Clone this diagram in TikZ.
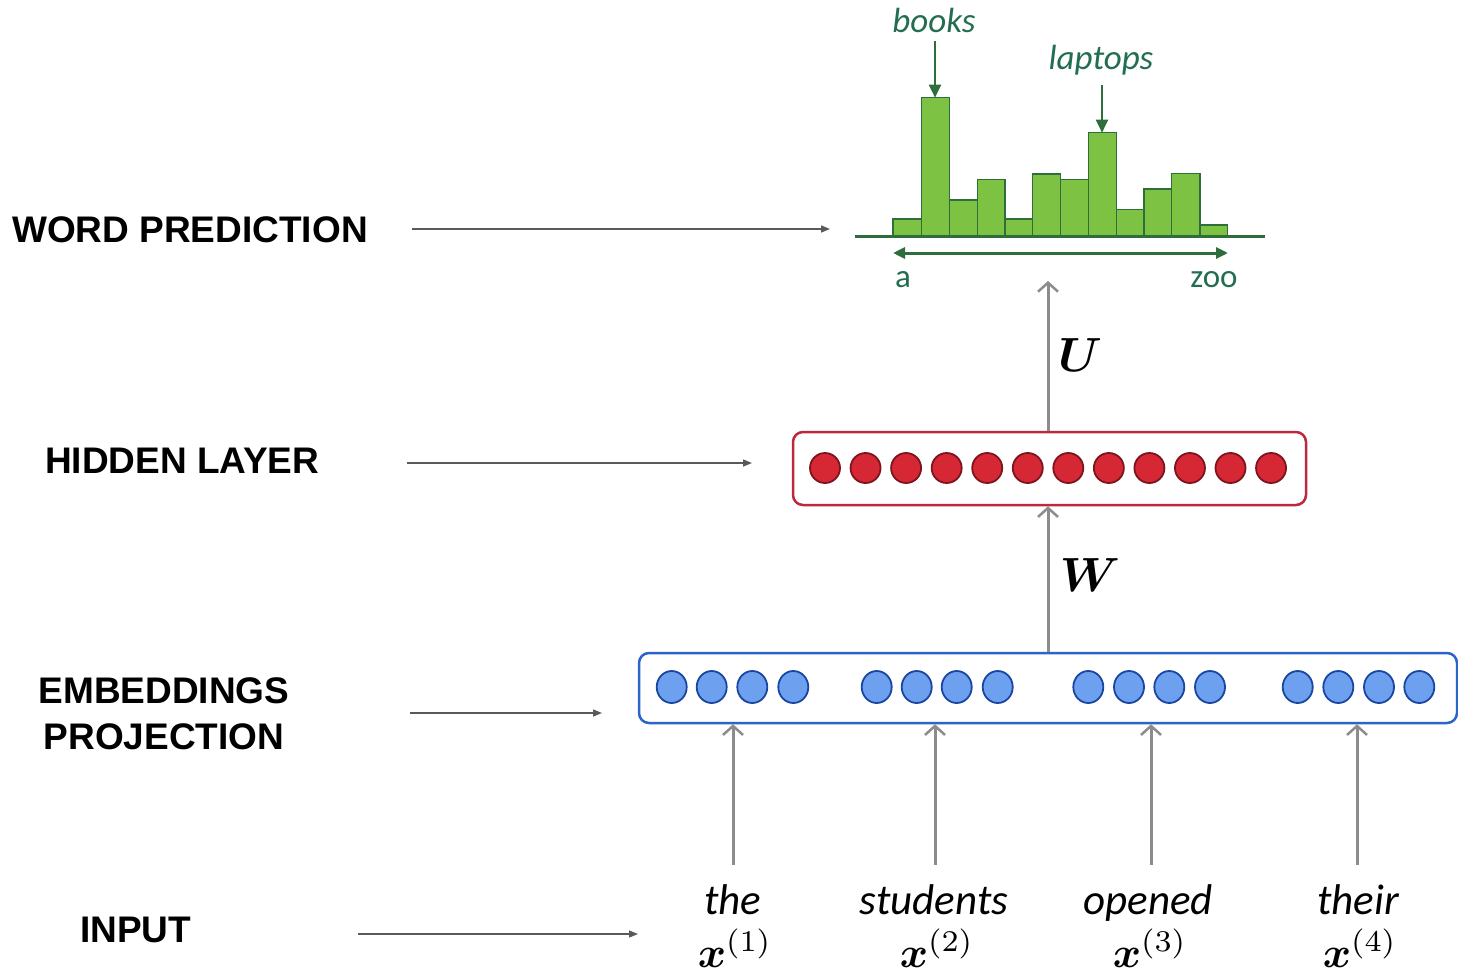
\documentclass[tikz,border=0pt]{standalone}
\usepackage{amsmath,bm,graphicx}
\usepackage{fontspec}
\newfontfamily\labfont{Liberation Sans}
\newfontfamily\calfont{Carlito}
\usetikzlibrary{arrows.meta,shapes.geometric}
\definecolor{barfill}{RGB}{125,194,66}
\definecolor{baredge}{RGB}{45,110,60}
\definecolor{gtext}{RGB}{35,110,80}
\definecolor{redfill}{RGB}{214,40,52}
\definecolor{rededge}{RGB}{125,20,30}
\definecolor{redbox}{RGB}{190,40,60}
\definecolor{bluefill}{RGB}{110,160,240}
\definecolor{blueedge}{RGB}{25,70,160}
\definecolor{bluebox}{RGB}{45,100,200}
\definecolor{garr}{RGB}{140,140,140}
\definecolor{larr}{RGB}{90,90,90}
\begin{document}
\begin{tikzpicture}[x=1pt,y=-1pt,
  lab/.style={font=\labfont\bfseries\fontsize{37}{46}\selectfont, inner sep=0pt, align=center},
  larrow/.style={draw=larr, line width=1.4pt, -{Triangle[length=9pt,width=7pt]}},
  garrow/.style={draw=garr, line width=3pt, -{Straight Barb[length=9pt,width=20pt,line width=2.5pt]}},
  bar/.style={fill=barfill, draw=baredge, line width=1.5pt},
  gline/.style={draw=baredge, line width=3pt},
  glab/.style={text=gtext, inner sep=0pt, anchor=base},
  redc/.style={circle, fill=redfill, draw=rededge, line width=1.8pt, minimum size=30pt, inner sep=0pt},
  bluec/.style={ellipse, fill=bluefill, draw=blueedge, line width=1.8pt, minimum width=30pt, minimum height=32pt, inner sep=0pt},
  layerbox/.style={rectangle, rounded corners=10pt, line width=2.5pt, fill=white, inner sep=0pt},
  word/.style={font=\calfont\itshape\fontsize{43}{46}\selectfont, inner sep=0pt, anchor=base},
  xv/.style={inner sep=0pt, anchor=base},
  wlab/.style={inner sep=0pt}
]
\useasboundingbox (0,0) rectangle (1458,979);

% ---------- left labels ----------
\node[lab, anchor=base west] (lwp) at (12,242) {WORD PREDICTION};
\node[lab, anchor=base west] (lhl) at (45,473) {HIDDEN LAYER};
\node[lab] (lemb) at (164,714) {EMBEDDINGS\\PROJECTION};
\node[lab, anchor=base west] (lin) at (80,942) {INPUT};

\coordinate (awp0) at (412,229);  \coordinate (awp1) at (830,229);
\coordinate (ahl0) at (407,463);  \coordinate (ahl1) at (752,463);
\coordinate (aem0) at (410,713);  \coordinate (aem1) at (602,713);
\coordinate (ain0) at (358,934);  \coordinate (ain1) at (638,934);
\draw[larrow] (awp0) -- (awp1);
\draw[larrow] (ahl0) -- (ahl1);
\draw[larrow] (aem0) -- (aem1);
\draw[larrow] (ain0) -- (ain1);

% ---------- histogram ----------
\foreach \a/\b/\t in {893/921.5/219, 921.5/949.3/97.7, 949.3/977.3/200, 977.3/1005/179.3,
  1005/1032.7/219, 1032.7/1060.7/174, 1060.7/1088.3/179.3, 1088.3/1116.7/132.7,
  1116.7/1144/209.3, 1144/1171.7/189, 1171.7/1200/173.3, 1200/1227.7/225}
  \draw[bar] (\a,236.5) rectangle (\b,\t);
\coordinate (base0) at (855,236.5); \coordinate (base1) at (1265,236.5);
\draw[gline] (base0) -- (base1);
\coordinate (rng0) at (893,253); \coordinate (rng1) at (1228,253);
\draw[gline, {Triangle[length=12pt,width=11pt]}-{Triangle[length=12pt,width=11pt]}] (rng0) -- (rng1);
\node[glab, font=\calfont\fontsize{33}{35}\selectfont] (la) at (903,287) {a};
\node[glab, font=\calfont\fontsize{33}{35}\selectfont] (lzoo) at (1214,287) {zoo};
\node[glab, font=\calfont\itshape\fontsize{35}{38}\selectfont] (books) at (934,33) {books};
\node[glab, font=\calfont\itshape\fontsize{35}{38}\selectfont] (laptops) at (1101,70) {laptops};
\coordinate (booksbar) at (935,97.7);
\coordinate (lapbar) at (1102,132.7);
\draw[draw=baredge, line width=2pt, -{Triangle[length=13pt,width=12pt]}, shorten <=8pt] (books.south -| booksbar) -- (booksbar);
\draw[draw=baredge, line width=2pt, -{Triangle[length=13pt,width=12pt]}, shorten <=9pt] (laptops.south -| lapbar) -- (lapbar);

% ---------- hidden layer ----------
\node[layerbox, draw=redbox, minimum width=513pt, minimum height=73pt] (hid) at (1049.5,468.5) {};
\foreach \i in {1,...,12}
  \node[redc] (h\i) at ({825+40.55*(\i-1)},468) {};

% ---------- embeddings ----------
\node[layerbox, draw=bluebox, minimum width=818pt, minimum height=70pt] (emb) at (1048,688) {};
\foreach \i/\x in {1/671.7,2/711.7,3/752.3,4/793.3,5/876.7,6/916.7,7/956.7,8/997.7,
  9/1088.3,10/1129,11/1169.3,12/1210,13/1297.7,14/1338.3,15/1379,16/1419.3}
  \node[bluec] (e\i) at (\x,687) {};

% ---------- U and W ----------
\coordinate (utip) at (1048,281);
\draw[garrow] (hid.north -| emb.north) -- (utip);
\draw[garrow] (emb.north) -- (hid.south -| emb.north);
\node[wlab] (U) at (1080,355) {\scalebox{4.8}{$\bm{U}$}};
\node[wlab] (W) at (1090,575) {\scalebox{4.8}{$\bm{W}$}};

% ---------- inputs ----------
\node[word] (w1) at (733,914) {the};
\node[word] (w2) at (934,914) {students};
\node[word] (w3) at (1148,914) {opened};
\node[word] (w4) at (1358,914) {their};
\node[xv] (x1) at (735,967) {\scalebox{4.3}{$\bm{x}^{(1)}$}};
\node[xv] (x2) at (937,967) {\scalebox{4.3}{$\bm{x}^{(2)}$}};
\node[xv] (x3) at (1150,967) {\scalebox{4.3}{$\bm{x}^{(3)}$}};
\node[xv] (x4) at (1360,967) {\scalebox{4.3}{$\bm{x}^{(4)}$}};
\foreach \i/\x in {1/733,2/935,3/1151,4/1357}{
  \coordinate (in\i) at (\x,865);
  \draw[garrow] (in\i) -- (in\i |- emb.south);
}
\end{tikzpicture}
\end{document}
